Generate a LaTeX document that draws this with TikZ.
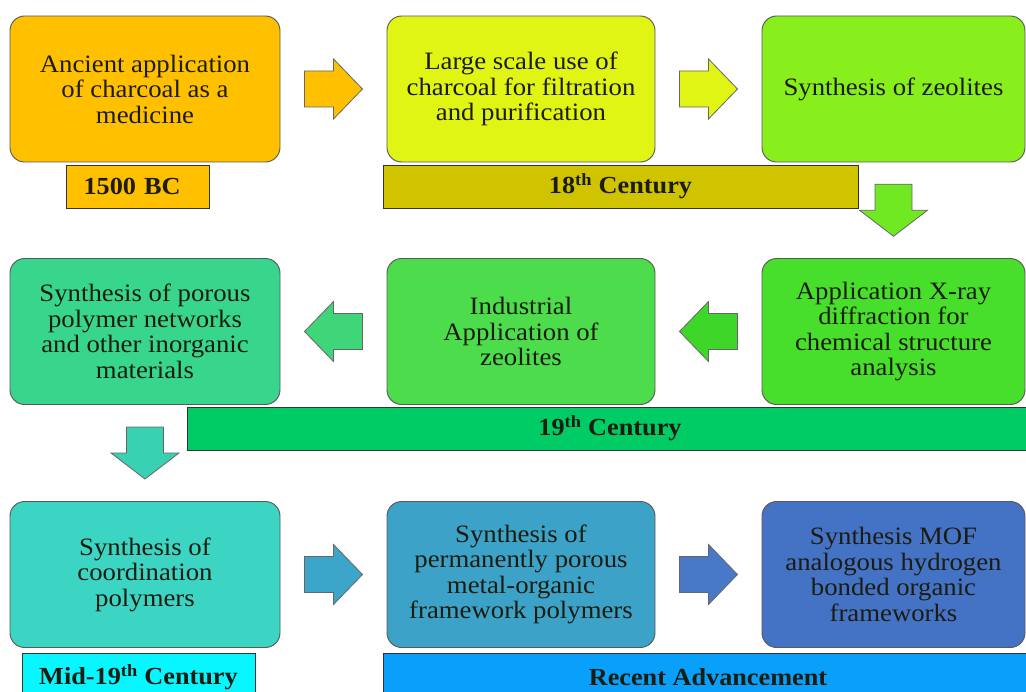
\documentclass[tikz,border=0pt]{standalone}
\usepackage{fontspec}
\setmainfont{Liberation Serif}[FakeStretch=1.07]
\usetikzlibrary{calc}

% fills of the stage boxes
\definecolor{cA}{RGB}{255,192,0}
\definecolor{cB}{RGB}{224,245,20}
\definecolor{cC}{RGB}{136,238,28}
\definecolor{cD}{RGB}{56,214,140}
\definecolor{cE}{RGB}{76,220,76}
\definecolor{cF}{RGB}{72,222,44}
\definecolor{cG}{RGB}{60,212,195}
\definecolor{cH}{RGB}{60,162,200}
\definecolor{cI}{RGB}{68,114,196}
% fills of the block arrows
\definecolor{aAB}{RGB}{255,192,0}
\definecolor{aBC}{RGB}{224,245,20}
\definecolor{aCF}{RGB}{112,232,34}
\definecolor{aFE}{RGB}{62,214,40}
\definecolor{aED}{RGB}{62,214,120}
\definecolor{aDG}{RGB}{56,210,178}
\definecolor{aGH}{RGB}{60,166,202}
\definecolor{aHI}{RGB}{72,120,200}
% fills of the period bands
\definecolor{pA}{RGB}{255,192,0}
\definecolor{pB}{RGB}{208,196,0}
\definecolor{pC}{RGB}{0,204,102}
\definecolor{pD}{RGB}{8,246,255}
\definecolor{pE}{RGB}{8,160,250}
\definecolor{ink}{RGB}{28,28,16}

\newcommand{\stagefont}{\fontsize{18.75pt}{19.1pt}\selectfont}
\newcommand{\bandfont}{\fontsize{18.4pt}{19pt}\selectfont\bfseries}

\begin{document}
\begin{tikzpicture}[x=0.75pt,y=-0.75pt,
  stage/.style={draw=black!65, line width=0.7pt, rounded corners=11pt,
    minimum height=109.5pt, align=center, font=\stagefont, text=ink, inner sep=2pt},
  band/.style={draw=black!80, line width=0.6pt, minimum height=32.25pt,
    font=\bandfont, text=ink, inner sep=0pt},
  arrowline/.style={draw=black!60, line width=0.6pt},
  harrow/.pic={\path[pic actions] (-29,-18) -- (0,-18) -- (0,-30) -- (29,0)
    -- (0,30) -- (0,18) -- (-29,18) -- cycle;},
  varrow/.pic={\path[pic actions] (-26,-18.5) -- (0,-18.5) -- (0,-34) -- (26,0)
    -- (0,34) -- (0,18.5) -- (-26,18.5) -- cycle;}
]
\clip (0,0) rectangle (1026,692);
\fill[white] (0,0) rectangle (1026,692);

% row 1
\node[stage, fill=cA, minimum width=202.5pt] (b1) at (145,89)
  {Ancient application\\of charcoal as a\\medicine};
\node[stage, fill=cB, minimum width=201pt] (b2) at (521,89)
  {Large scale use of\\charcoal for filtration\\and purification};
\node[stage, fill=cC, minimum width=197.25pt] (b3) at (893.5,89)
  {Synthesis of zeolites};

% row 2
\node[stage, fill=cD, minimum width=202.5pt] (b4) at (145,331.5)
  {Synthesis of porous\\polymer networks\\and other inorganic\\materials};
\node[stage, fill=cE, minimum width=201pt] (b5) at (521,331.5)
  {Industrial\\Application of\\zeolites};
\node[stage, fill=cF, minimum width=197.25pt] (b6) at (893.5,331.5)
  {Application X-ray\\diffraction for\\chemical structure\\analysis};

% row 3
\node[stage, fill=cG, minimum width=202.5pt] (b7) at (145,574.5)
  {Synthesis of\\coordination\\polymers};
\node[stage, fill=cH, minimum width=201pt] (b8) at (521,574.5)
  {Synthesis of\\permanently porous\\metal-organic\\framework polymers};
\node[stage, fill=cI, minimum width=197.25pt] (b9) at (893.5,574.5)
  {Synthesis MOF\\analogous hydrogen\\bonded organic\\frameworks};

% period bands
\node[band, fill=pA, minimum width=107.25pt, text width=81pt, align=left]
  (p1) at (137.5,186.5) {1500 BC};
\node[band, fill=pB, minimum width=356.25pt] (p2) at (620.5,186.5)
  {18\textsuperscript{th} Century};
\node[band, fill=pC, minimum width=634.5pt] (p3) at (610,428.5)
  {19\textsuperscript{th} Century};
\node[band, fill=pD, minimum width=174.75pt, minimum height=36pt] (p4) at (138.5,677)
  {Mid-19\textsuperscript{th} Century};
\node[band, fill=pE, minimum width=487.5pt, minimum height=36pt] (p5) at (708,677)
  {Recent Advancement};

% block arrows between the stages
\pic[arrowline, fill=aAB] at ($(b1.east)!0.5!(b2.west)$) {harrow};
\pic[arrowline, fill=aBC] at ($(b2.east)!0.5!(b3.west)$) {harrow};
\pic[arrowline, fill=aCF, rotate=-90] at ($(b3.south)!0.5!(b6.north)$) {varrow};
\pic[arrowline, fill=aFE, rotate=180] at ($(b6.west)!0.5!(b5.east)$) {harrow};
\pic[arrowline, fill=aED, rotate=180] at ($(b5.west)!0.5!(b4.east)$) {harrow};
\pic[arrowline, fill=aDG, rotate=-90] at ($(b4.south)!0.5!(b7.north)$) {varrow};
\pic[arrowline, fill=aGH] at ($(b7.east)!0.5!(b8.west)$) {harrow};
\pic[arrowline, fill=aHI] at ($(b8.east)!0.5!(b9.west)$) {harrow};
\end{tikzpicture}
\end{document}
